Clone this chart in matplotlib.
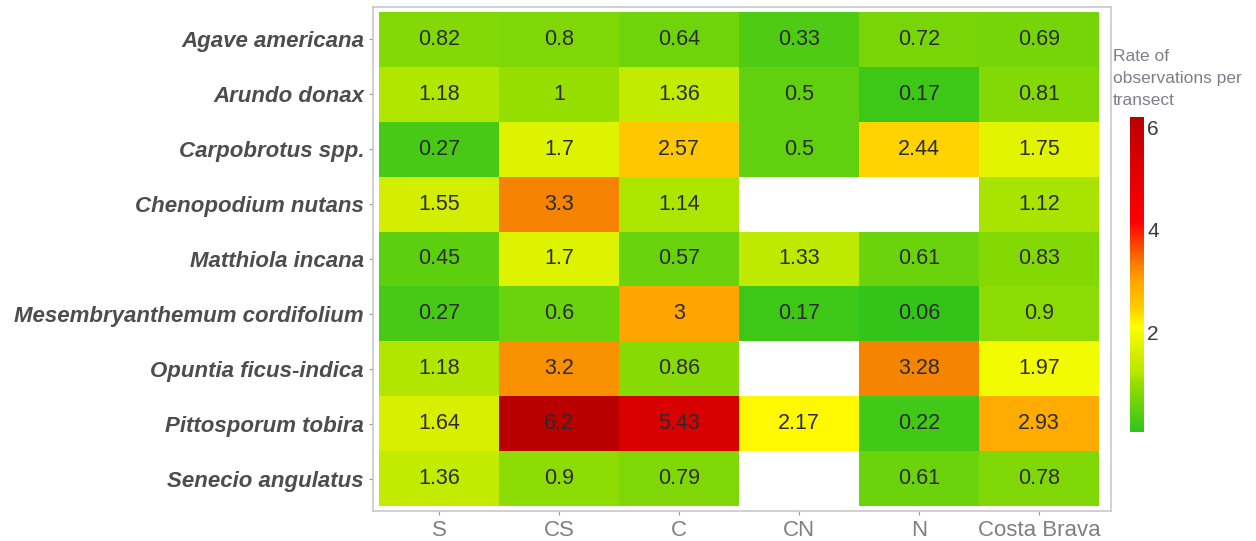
import numpy as np
import matplotlib
matplotlib.use("Agg")
import matplotlib.pyplot as plt
from matplotlib.colors import LinearSegmentedColormap

species = ["Agave americana", "Arundo donax", "Carpobrotus spp.", "Chenopodium nutans",
           "Matthiola incana", "Mesembryanthemum cordifolium", "Opuntia ficus-indica",
           "Pittosporum tobira", "Senecio angulatus"]
zones = ["S", "CS", "C", "CN", "N", "Costa Brava"]

# rate of observations per transect (nan = no data)
col_S = [0.82, 1.18, 0.27, 1.55, 0.45, 0.27, 1.18, 1.64, 1.36]
col_CS = [0.8, 1, 1.7, 3.3, 1.7, 0.6, 3.2, 6.2, 0.9]
col_C = [0.64, 1.36, 2.57, 1.14, 0.57, 3, 0.86, 5.43, 0.79]
col_CN = [0.33, 0.5, 0.5, np.nan, 1.33, 0.17, np.nan, 2.17, np.nan]
col_N = [0.72, 0.17, 2.44, np.nan, 0.61, 0.06, 3.28, 0.22, 0.61]
col_CB = [0.69, 0.81, 1.75, 1.12, 0.83, 0.9, 1.97, 2.93, 0.78]

vals = np.array([col_S, col_CS, col_C, col_CN, col_N, col_CB], dtype=float).T
vmin, vmax = 0.06, 6.2

cmap = LinearSegmentedColormap.from_list(
    "gyr", [(0.0, "#33c41a"), (0.153, "#96de00"), (0.186, "#b5e800"),
            (0.242, "#d2ee00"), (0.334, "#ffff00"), (0.397, "#ffcc00"),
            (0.479, "#ffa500"), (0.527, "#f58400"), (0.668, "#ff0000"),
            (0.876, "#d80000"), (1.0, "#b80000")])

fig = plt.figure(figsize=(12.56, 5.41), dpi=100)
ax = fig.add_axes([0.297, 0.0555, 0.5876, 0.9316])

nr, nc = vals.shape
masked = np.ma.masked_invalid(vals)
ax.pcolormesh(np.arange(nc + 1) - 0.5, np.arange(nr + 1) - 0.5, masked,
              cmap=cmap, vmin=vmin, vmax=vmax)
for i in range(nr):
    for j in range(nc):
        v = vals[i, j]
        if not np.isnan(v):
            ax.text(j, i, f"{v:g}", ha="center", va="center", fontsize=15.5,
                    color="#2b2b2b", family="Liberation Sans")

ax.set_xlim(-0.55, nc - 0.4)
ax.set_ylim(nr - 0.41, -0.59)
ax.set_xticks(range(nc))
ax.set_xticklabels(zones, fontsize=16, color="#7f7f7f", family="Liberation Sans")
ax.set_yticks(range(nr))
ax.set_yticklabels(species, fontsize=16, color="#4d4d4d", family="Liberation Sans",
                   fontweight="bold", fontstyle="italic")
ax.tick_params(axis="both", length=3, color="#9a9a9a", width=0.8)
for s in ax.spines.values():
    s.set_color("#c8c8c8")
    s.set_linewidth(1.2)

cax = fig.add_axes([0.8997, 0.2015, 0.0104, 0.582])
grad = np.linspace(vmin, vmax, 256).reshape(-1, 1)
cax.imshow(grad, aspect="auto", origin="lower", cmap=cmap,
           extent=[0, 1, vmin, vmax])
cax.set_xticks([])
cax.yaxis.tick_right()
cax.set_yticks([2, 4, 6])
cax.set_yticklabels(["2", "4", "6"], fontsize=15, color="#3a3a3a", family="Liberation Sans")
cax.tick_params(axis="y", length=0, pad=3)
for s in cax.spines.values():
    s.set_visible(False)
fig.text(0.886, 0.80, "Rate of\nobservations per\ntransect", fontsize=12.5,
         color="#7f7f8a", family="Liberation Sans", ha="left", va="bottom",
         linespacing=1.6)

fig.savefig("out.png", dpi=100)
